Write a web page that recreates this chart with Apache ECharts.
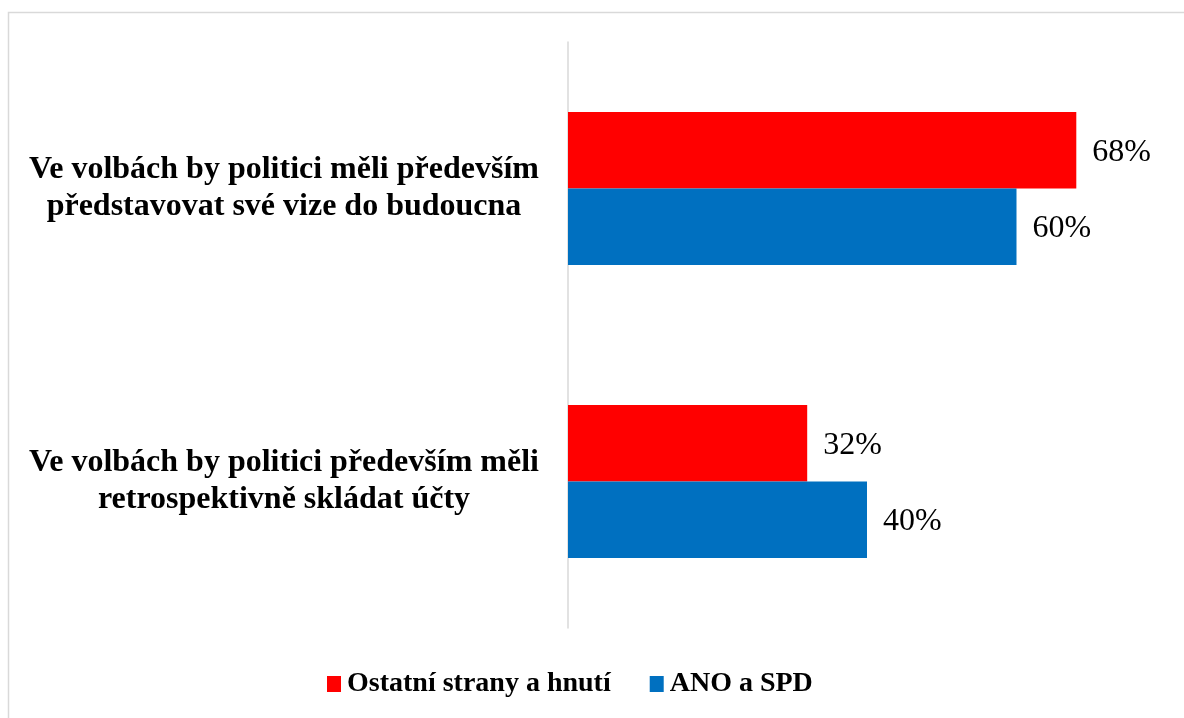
<!DOCTYPE html>
<html>
<head>
<meta charset="utf-8">
<script src="https://cdn.jsdelivr.net/npm/echarts@6/dist/echarts.min.js"></script>
<style>
  html, body { margin: 0; padding: 0; background: #ffffff; }
  #chart { width: 1184px; height: 718px; }
</style>
</head>
<body>
<div id="chart"></div>
<script>
// Survey statements (category axis, top to bottom)
const categories = [
  'Ve volbách by politici měli především\npředstavovat své vize do budoucna',
  'Ve volbách by politici především měli\nretrospektivně skládat účty'
];
// Share of respondents (%) per group
const seriesNames = ['Ostatní strany a hnutí', 'ANO a SPD'];
const otherParties = [68, 32];
const anoSpd = [60, 40];

const serif = '"Liberation Serif", "Times New Roman", serif';

const valueLabel = {
  show: true,
  position: 'right',
  distance: 16,
  offset: [0, 2],
  formatter: '{c}%',
  fontFamily: serif,
  fontSize: 32,
  color: '#000'
};

const chart = echarts.init(document.getElementById('chart'));
chart.setOption({
  animation: false,
  backgroundColor: '#ffffff',
  graphic: [{
    type: 'rect',
    shape: { x: 8.5, y: 12.5, width: 1300, height: 900 },
    style: { fill: 'none', stroke: '#d9d9d9', lineWidth: 1.5 },
    silent: true
  }],
  grid: { left: 568, top: 42, width: 598, height: 586 },
  legend: {
    data: seriesNames,
    left: 322,
    top: 665,
    icon: 'rect',
    itemWidth: 14,
    itemHeight: 16,
    itemGap: 39,
    textStyle: { fontFamily: serif, fontWeight: 'bold', fontSize: 28, color: '#000', padding: [0, 0, 0, 1] }
  },
  xAxis: {
    type: 'value',
    min: 0,
    max: 80,
    show: false
  },
  yAxis: {
    type: 'category',
    data: categories,
    inverse: true,
    axisLine: { show: true, lineStyle: { color: '#d9d9d9', width: 1.5 } },
    axisTick: { show: false },
    axisLabel: {
      margin: 284,
      align: 'center',
      fontFamily: serif,
      fontWeight: 'bold',
      fontSize: 32,
      lineHeight: 37,
      color: '#000'
    }
  },
  series: [
    {
      name: seriesNames[0],
      type: 'bar',
      data: otherParties,
      barWidth: 76.5,
      barGap: '0%',
      itemStyle: { color: '#ff0000' },
      label: valueLabel
    },
    {
      name: seriesNames[1],
      type: 'bar',
      data: anoSpd,
      barWidth: 76.5,
      barGap: '0%',
      itemStyle: { color: '#0070c0' },
      label: valueLabel
    }
  ]
});
</script>
</body>
</html>
